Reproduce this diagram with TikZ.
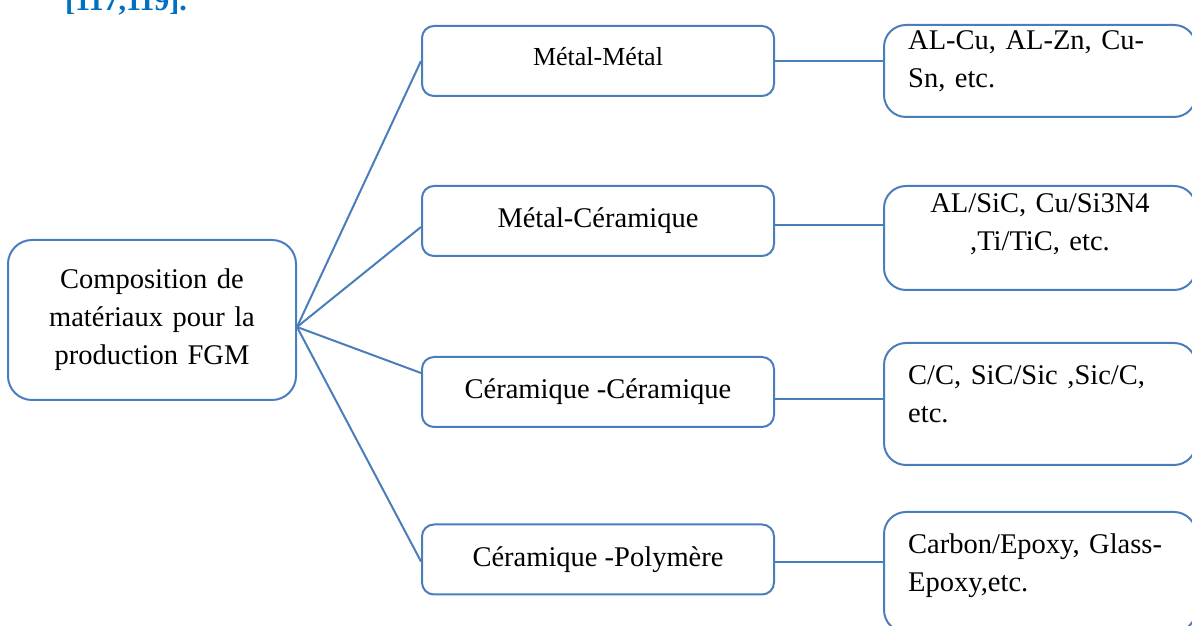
\documentclass[tikz,border=0pt]{standalone}
\usepackage{fontspec}
\setmainfont{Liberation Serif}
\usetikzlibrary{positioning}
\definecolor{boxblue}{RGB}{74,126,187}
\definecolor{refblue}{RGB}{0,112,192}

\begin{document}
\begin{tikzpicture}[x=1pt,y=1pt,font=\fontsize{28.5}{38}\selectfont,
    bigbox/.style={draw=boxblue, line width=2pt, rounded corners=24pt, minimum width=288pt, minimum height=160pt, text width=260pt, align=center, inner sep=0pt},
    midbox/.style={draw=boxblue, line width=2pt, rounded corners=12pt, minimum width=352pt, minimum height=70pt, inner sep=0pt},
    resbox/.style={draw=boxblue, line width=2pt, rounded corners=22pt, minimum width=312pt, inner sep=0pt},
    restext/.style={anchor=base west, text width=270pt, align=left, inner sep=0pt},
    link/.style={draw=boxblue, line width=2pt}]
                \useasboundingbox (0,0) rectangle (1192,626);
                \clip (0,0) rectangle (1192,626);
                \node[anchor=base west, text=refblue, font=\fontsize{30}{36}\selectfont\bfseries, inner sep=0pt] (cite) at (65,615) {[117,119].};
                % composition
                \node[bigbox] (comp) at (152,306) {Composition de matériaux pour la production FGM};
                \coordinate (hub) at ([yshift=-7pt]comp.east);
                % couples
                \node[midbox, font=\fontsize{26}{32}\selectfont, text depth=10pt] (mm) at (598,565) {Métal-Métal};
                \node[midbox] (mc) at (598,405) {Métal-Céramique};
                \node[midbox] (cc) at (598,234) {Céramique -Céramique};
                \node[midbox] (cp) at (598,66.5) {Céramique -Polymère};
                % exemples
                \node[resbox, minimum height=92pt] (emm) at (1040,555) {};
                \node[resbox, minimum height=104pt] (emc) at (1040,388) {};
                \node[resbox, minimum height=122pt] (ecc) at (1040,222) {};
                \node[resbox, minimum height=120pt] (ecp) at (1040,54) {};
                \node[restext] (tmm) at ([shift={(25,-26)}]emm.north west) {AL-Cu, AL-Zn, Cu-\\Sn, etc.};
                \node[anchor=base, text width=300pt, align=center, inner sep=0pt] (tmc) at ([yshift=25pt]emc.north |- emc.center) {AL/SiC, Cu/Si3N4\\,Ti/TiC, etc.};
                \node[restext] (tcc) at ([shift={(25,-43)}]ecc.north west) {C/C, SiC/Sic ,Sic/C,\\etc.};
                \node[restext] (tcp) at ([shift={(25,-43)}]ecp.north west) {Carbon/Epoxy, Glass-\\Epoxy,etc.};
                % liens
                \draw[link] (hub) -- (mm.west);
                \draw[link] (hub) -- ([yshift=-6pt]mc.west);
                \draw[link] (hub) -- ([yshift=19pt]cc.west);
                \draw[link] (hub) -- ([yshift=-2pt]cp.west);
                \draw[link] (mm.east) -- (mm.east -| emm.west);
                \draw[link] ([yshift=-4pt]mc.east) -- ([yshift=-4pt]mc.east -| emc.west);
                \draw[link] ([yshift=-7pt]cc.east) -- ([yshift=-7pt]cc.east -| ecc.west);
                \draw[link] ([yshift=-2.5pt]cp.east) -- ([yshift=-2.5pt]cp.east -| ecp.west);
            \end{tikzpicture}
\end{document}
